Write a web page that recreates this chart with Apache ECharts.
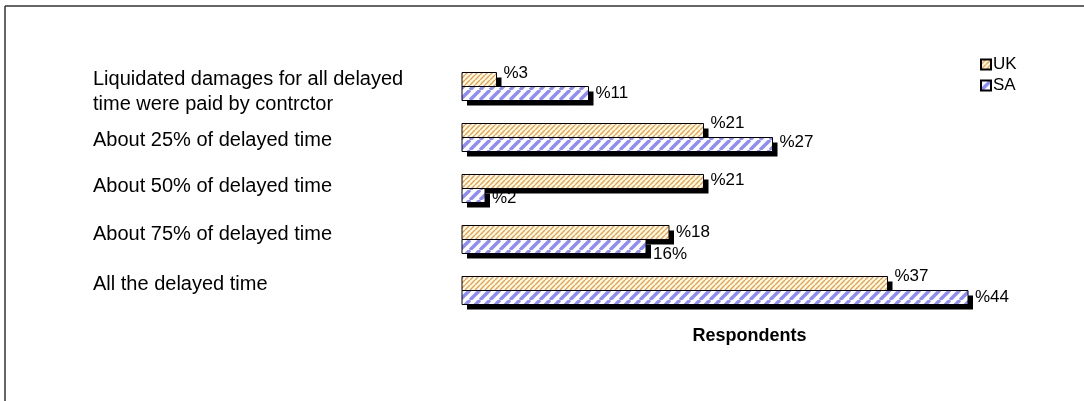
<!DOCTYPE html>
<html>
<head>
<meta charset="utf-8">
<script src="https://cdn.jsdelivr.net/npm/echarts@6/dist/echarts.min.js"></script>
<style>
  html, body { margin: 0; padding: 0; background: #fff; }
  #chart { width: 1084px; height: 401px; }
</style>
</head>
<body>
<div id="chart"></div>
<script>
// Delay-compensation answers, UK vs SA respondents (percent)
const categories = [
  'Liquidated damages for all delayed\ntime were paid by contrctor',
  'About 25% of delayed time',
  'About 50% of delayed time',
  'About 75% of delayed time',
  'All the delayed time'
];
const seriesNames = ['UK', 'SA'];
const ukValues = [3, 21, 21, 18, 37];
const saValues = [11, 27, 2, 16, 44];
const ukLabelText = ['%3', '%21', '%21', '%18', '%37'];
const saLabelText = ['%11', '%27', '%2', '16%', '%44'];

// Vertical nudges (px) for the hand-placed value labels and row captions
const ukLabelNudge = [-6, -7, -1, 0, -7];
const saLabelNudge = [0, -2, 3, 8, 0];
const captionNudge = [5, 3, -2, -5, -6];

const FONT = 'Liberation Sans, Arial, sans-serif';
const BAR_H = 14;
const SHADOW = 5;

// Hatched fills drawn once into small tiles and repeated
function hatch(size, color, lineWidth) {
  const c = document.createElement('canvas');
  c.width = size; c.height = size;
  const g = c.getContext('2d');
  g.fillStyle = '#fff';
  g.fillRect(0, 0, size, size);
  g.strokeStyle = color;
  g.lineWidth = lineWidth;
  g.beginPath();
  for (let k = -1; k <= 1; k++) {
    g.moveTo(k * size, size);
    g.lineTo(k * size + size, 0);
  }
  g.stroke();
  return { image: c, repeat: 'repeat' };
}
const ukFill = hatch(5, '#F5A030', 1.5);
const saFill = hatch(10, '#8C8CFF', 3.4);

// One bar per category with a hard black drop shadow and a value label
function barRenderer(fill, side, texts, nudges) {
  return function (params, api) {
    const v = api.value(0);
    const cat = api.value(1);
    const origin = api.coord([0, cat]);
    const end = api.coord([v, cat]);
    const y = side === 0 ? origin[1] - BAR_H : origin[1];
    const w = end[0] - origin[0];
    const i = params.dataIndex;
    return {
      type: 'group',
      children: [
        { type: 'rect', shape: { x: origin[0] + SHADOW, y: y + SHADOW, width: w, height: BAR_H },
          style: { fill: '#000' } },
        { type: 'rect', shape: { x: origin[0], y: y, width: w, height: BAR_H },
          style: { fill: fill, stroke: '#000', lineWidth: 1 } },
        { type: 'text', x: end[0] + 7, y: y + BAR_H / 2 + nudges[i],
          style: { text: texts[i], fill: '#000', font: '17px ' + FONT, textAlign: 'left', textVerticalAlign: 'middle' } }
      ]
    };
  };
}

const ukData = ukValues.map((v, i) => [v, i]);
const saData = saValues.map((v, i) => [v, i]);

const rich = {};
captionNudge.forEach((n, i) => {
  rich['c' + i] = {
    fontFamily: FONT, fontSize: 20, lineHeight: 25, color: '#000',
    padding: n >= 0 ? [2 * n, 0, 0, 0] : [0, 0, -2 * n, 0]
  };
});

const chart = echarts.init(document.getElementById('chart'), null, { renderer: 'canvas' });

chart.setOption({
  animation: false,
  backgroundColor: '#fff',
  grid: { left: 462, top: 61, width: 575, height: 255 },
  legend: {
    orient: 'vertical',
    left: 975,
    top: 51,
    itemWidth: 10,
    itemHeight: 10,
    itemGap: 4,
    icon: 'rect',
    textStyle: { fontFamily: FONT, fontSize: 17, color: '#000', padding: [0, 0, 0, -3] },
    data: seriesNames
  },
  xAxis: {
    type: 'value',
    min: 0,
    max: 50,
    axisLine: { show: false },
    axisTick: { show: false },
    axisLabel: { show: false },
    splitLine: { show: false },
    name: 'Respondents',
    nameLocation: 'middle',
    nameGap: 11,
    nameTextStyle: { fontFamily: FONT, fontSize: 18, fontWeight: 'bold', color: '#000' }
  },
  yAxis: {
    type: 'category',
    inverse: true,
    data: categories,
    axisLine: { show: false },
    axisTick: { show: false },
    axisLabel: {
      align: 'left',
      margin: 369,
      fontFamily: FONT,
      fontSize: 20,
      lineHeight: 25,
      color: '#000',
      formatter: function (v, i) {
        return v.split('\n').map(s => '{c' + i + '|' + s + '}').join('\n');
      },
      rich: rich
    }
  },
  series: [
    {
      name: 'UK',
      type: 'custom',
      data: ukData,
      encode: { x: 0, y: 1 },
      itemStyle: { color: ukFill, borderColor: '#000', borderWidth: 1 },
      renderItem: barRenderer(ukFill, 0, ukLabelText, ukLabelNudge)
    },
    {
      name: 'SA',
      type: 'custom',
      data: saData,
      encode: { x: 0, y: 1 },
      itemStyle: { color: saFill, borderColor: '#000', borderWidth: 1 },
      renderItem: barRenderer(saFill, 1, saLabelText, saLabelNudge)
    }
  ],
  graphic: [
    { type: 'line', shape: { x1: 5, y1: 6, x2: 1084, y2: 6 }, style: { stroke: '#333', lineWidth: 1.5 } },
    { type: 'line', shape: { x1: 5, y1: 6, x2: 5, y2: 401 }, style: { stroke: '#333', lineWidth: 1.5 } }
  ]
});
</script>
</body>
</html>
